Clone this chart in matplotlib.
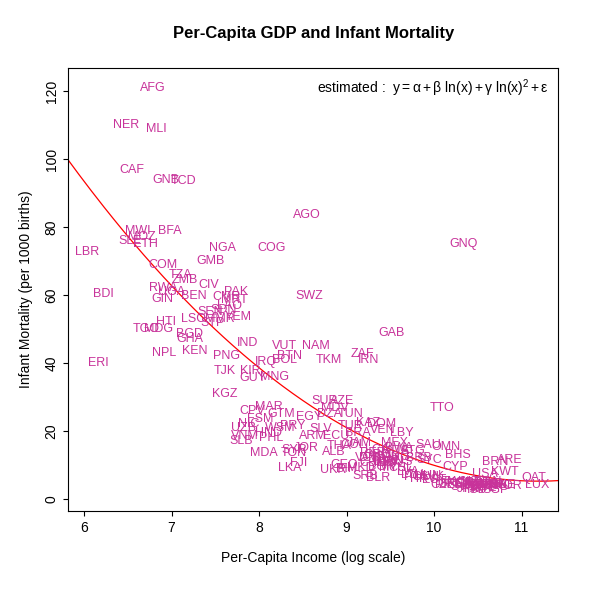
import matplotlib.pyplot as plt
import numpy as np

plt.rcParams['font.family'] = ['Liberation Sans', 'DejaVu Sans']
plt.rcParams['mathtext.fontset'] = 'custom'
plt.rcParams['mathtext.rm'] = 'Liberation Sans'
plt.rcParams['mathtext.it'] = 'Liberation Sans'

# country code, log per-capita income, infant mortality per 1000 births
countries = [
    "AFG", "NER", "MLI", "CAF", "GNB", "TCD", "AGO", "GNQ", "MWI", "MOZ",
    "SLE", "ETH", "BFA", "LBR", "NGA", "COG", "COM", "GMB", "TZA", "ZMB",
    "CIV", "RWA", "UGA", "BDI", "GIN", "BEN", "PAK", "CMR", "MRT", "TGO",
    "MDG", "HTI", "LSO", "SEN", "SDN", "YEM", "STP", "LAO", "MMR", "BGD",
    "GHA", "NPL", "KEN", "ERI", "IND", "VUT", "NAM", "BTN", "BOL", "PNG",
    "IRQ", "TKM", "ZAF", "IRN", "GAB", "SWZ", "TJK", "KIR", "GUY", "MNG",
    "KGZ", "TTO", "SUR", "AZE", "MDV", "DZA", "TUN", "CPV", "MAR", "GTM",
    "EGY", "FSM", "WSM", "PRY", "UZB", "NIC", "HND", "PHL", "VNM", "SLB",
    "MDA", "TON", "FJI", "LKA", "SYR", "JOR", "ARM", "ECU", "SLV", "TUR",
    "BRA", "KAZ", "DOM", "VEN", "LBY", "MEX", "SAU", "OMN", "BHS", "ATG",
    "BRB", "SYC", "CYP", "BRN", "ARE", "KWT", "QAT", "LUX", "USA", "NOR",
    "UKR", "BLR", "SRB", "BIH", "MKD", "ALB", "THA", "COL", "PER", "VCT",
    "LCA", "CHN", "GEO", "CRI", "PAN", "MYS", "ARG", "URY", "CHL", "LVA",
    "LTU", "HRV", "POL", "HUN", "SVK", "EST", "CZE", "PRT", "GRC", "KOR",
    "ISR", "ESP", "ITA", "NZL", "GBR", "FRA", "DEU", "BEL", "AUT", "NLD",
    "DNK", "SWE", "FIN", "ISL", "JPN", "SGP", "CAN", "AUS", "IRL", "CHE",
    "RUS", "BGR", "ROU", "JAM", "GRD", "DMA", "MUS", "BWA", "TWN", "SVN",
]
log_income = [
    6.78, 6.48, 6.83, 6.55, 6.94, 7.14, 8.55, 10.34, 6.61, 6.66,
    6.53, 6.70, 6.98, 6.03, 7.58, 8.14, 6.90, 7.44, 7.10, 7.15,
    7.42, 6.90, 7.00, 6.22, 6.90, 7.25, 7.74, 7.63, 7.72, 6.71,
    6.85, 6.94, 7.25, 7.44, 7.59, 7.76, 7.47, 7.66, 7.55, 7.21,
    7.21, 6.91, 7.26, 6.16, 7.87, 8.29, 8.65, 8.35, 8.29, 7.63,
    8.08, 8.80, 9.18, 9.25, 9.51, 8.57, 7.61, 7.90, 7.93, 8.18,
    7.61, 10.09, 8.75, 8.95, 8.87, 8.81, 9.04, 7.92, 8.11, 8.25,
    8.57, 8.01, 8.24, 8.39, 7.82, 7.88, 8.11, 8.14, 7.84, 7.80,
    8.06, 8.40, 8.45, 8.35, 8.40, 8.54, 8.61, 8.88, 8.70, 9.05,
    9.13, 9.25, 9.40, 9.41, 9.63, 9.55, 9.93, 10.13, 10.27, 9.76,
    9.83, 9.95, 10.24, 10.70, 10.87, 10.81, 11.14, 11.18, 10.58, 10.84,
    8.85, 9.36, 9.21, 9.00, 9.16, 8.85, 8.92, 9.07, 9.30, 9.24,
    9.35, 9.30, 8.97, 9.45, 9.50, 9.52, 9.58, 9.45, 9.62, 9.70,
    9.75, 9.87, 9.80, 9.92, 9.98, 10.00, 10.10, 10.15, 10.20, 10.30,
    10.35, 10.38, 10.42, 10.45, 10.50, 10.52, 10.56, 10.60, 10.63, 10.66,
    10.68, 10.55, 10.46, 10.48, 10.40, 10.70, 10.62, 10.64, 10.72, 10.78,
    9.60, 9.40, 9.45, 9.15, 9.35, 9.30, 9.55, 9.60, 10.25, 10.33,
]
infant_mortality = [
    121.0, 110.0, 109.0, 97.0, 94.0, 93.5, 83.5, 75.0, 79.0, 77.0,
    76.0, 75.0, 79.0, 72.6, 74.0, 74.0, 69.0, 70.0, 66.0, 64.5,
    63.0, 62.0, 61.0, 60.3, 59.0, 59.7, 61.0, 59.4, 58.5, 50.0,
    50.0, 52.0, 53.0, 55.0, 55.5, 53.5, 51.8, 56.8, 53.0, 48.5,
    47.0, 43.0, 43.5, 40.0, 46.0, 45.0, 45.0, 42.0, 41.0, 42.0,
    40.3, 41.0, 42.6, 41.0, 49.0, 59.7, 37.6, 37.6, 35.5, 36.0,
    31.0, 26.8, 28.8, 28.8, 26.8, 25.0, 25.0, 26.0, 27.0, 25.0,
    24.0, 23.5, 21.0, 21.5, 21.0, 22.0, 19.5, 18.0, 18.5, 17.0,
    13.5, 13.5, 10.5, 9.0, 14.5, 15.0, 18.5, 18.5, 20.5, 21.5,
    19.5, 22.5, 22.0, 20.3, 19.4, 16.5, 16.0, 15.3, 13.0, 14.0,
    12.0, 11.5, 9.4, 11.0, 11.5, 8.0, 6.2, 4.1, 7.4, 3.8,
    8.5, 6.2, 6.8, 8.8, 9.2, 13.8, 15.5, 15.8, 13.5, 12.0,
    14.5, 10.5, 10.0, 10.5, 11.5, 9.0, 12.5, 11.0, 9.0, 8.0,
    7.0, 6.0, 6.5, 6.8, 6.5, 5.5, 4.0, 4.0, 4.5, 4.8,
    4.5, 4.0, 3.8, 5.0, 4.8, 4.0, 3.5, 4.0, 3.8, 4.5,
    4.0, 3.2, 3.0, 2.5, 3.0, 2.5, 5.0, 4.5, 4.0, 4.0,
    10.8, 9.5, 12.0, 16.5, 13.0, 12.0, 14.0, 15.0, 5.0, 3.5,
]

text_color = "#C8339A"

fig, ax = plt.subplots(figsize=(5.94, 5.94), dpi=100)
fig.subplots_adjust(left=0.115, right=0.94, top=0.885, bottom=0.14)

for code, xv, yv in zip(countries, log_income, infant_mortality):
    ax.text(xv, yv, code, color=text_color, fontsize=9,
            ha="center", va="center")

# quadratic fit in log income
coef = np.polyfit(log_income, infant_mortality, 2)
grid = np.linspace(5.8, 11.45, 200)
ax.plot(grid, np.polyval(coef, grid), color="red", lw=0.9)

ax.set_xlim(5.82, 11.42)
ax.set_ylim(-3.5, 126.8)
ax.set_xticks([6, 7, 8, 9, 10, 11])
ax.set_yticks([0, 20, 40, 60, 80, 100, 120])
ax.tick_params(labelsize=10)
for lab in ax.get_yticklabels():
    lab.set_rotation(90)
    lab.set_va("center")
ax.set_xlabel("Per-Capita Income (log scale)", fontsize=10, labelpad=12)
ax.set_ylabel("Infant Mortality (per 1000 births)", fontsize=10, labelpad=8)
ax.set_title("Per-Capita GDP and Infant Mortality", fontsize=12,
             fontweight="bold", pad=22)
ax.text(0.98, 0.955,
        r"estimated :  $y = \alpha + \beta\ \ln(x) + \gamma\ \ln(x)^2 + \epsilon$",
        transform=ax.transAxes, ha="right", va="center", fontsize=10)

fig.savefig("out.png", dpi=100)
